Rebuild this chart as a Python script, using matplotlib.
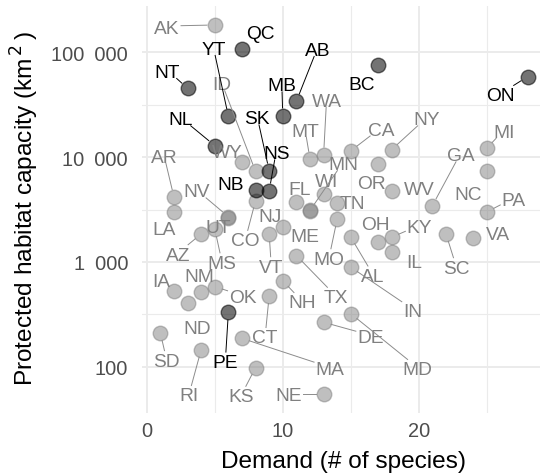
import math
import matplotlib
matplotlib.use("Agg")
import matplotlib.pyplot as plt
from matplotlib.lines import Line2D
from matplotlib.transforms import IdentityTransform
from matplotlib.ticker import FixedLocator, FuncFormatter, NullFormatter

# ---------------- data ----------------
us_state = ["AK", "ID", "WY", "MT", "WA", "CA", "NY", "MI", "OR", "WV",
            "GA", "NC", "PA", "VA", "SC", "KY", "OH", "IL", "AL", "IN",
            "MD", "DE", "TX", "MO", "TN", "MN", "WI", "ME", "FL", "NJ",
            "VT", "NH", "CT", "MA", "KS", "NE", "RI", "SD", "IA", "ND",
            "NM", "OK", "AZ", "MS", "NV", "UT", "AR", "LA", "CO"]
us_demand = [5, 8, 7, 12, 13, 15, 18, 25, 17, 18,
             21, 25, 25, 24, 22, 18, 17, 18, 15, 15,
             15, 13, 11, 14, 14, 12, 13, 12, 11, 10,
             9, 10, 9, 7, 8, 13, 4, 1, 2, 3,
             4, 5, 4, 5, 6, 6, 2, 2, 8]
us_capacity = [183000, 7300, 8900, 9600, 10500, 11500, 11800, 12200, 8600, 4800,
               3450, 7300, 3000, 1680, 1850, 1720, 1560, 1240, 1720, 890,
               320, 265, 1150, 2570, 3650, 3100, 4450, 3050, 3700, 2150,
               1850, 660, 475, 186, 98, 55, 145, 210, 530, 405,
               515, 580, 1850, 2060, 2700, 2650, 4150, 2980, 3850]

ca_prov = ["QC", "YT", "NT", "NL", "MB", "AB", "BC", "ON", "SK", "NS", "NB", "PE"]
ca_demand = [7, 6, 3, 5, 10, 11, 17, 28, 9, 9, 8, 6]
ca_capacity = [108000, 24600, 45500, 12900, 24900, 34200, 76400, 58800, 7430, 4790, 4900, 330]

x_ticks = [0, 10, 20]
x_minor = [5, 15, 25]
y_ticks = [1e2, 1e3, 1e4, 1e5]
y_minor = [10 ** 2.5, 10 ** 3.5, 10 ** 4.5]

# ---------------- label layout (pixel offsets, +y up; draw segment?) ----------------
label_layout = {
    "QC": (18, 18, False), "YT": (-15, 69, True), "NT": (-20, 18, True),
    "NL": (-34, 28, True), "MB": (-1, 32, True), "AB": (21, 53, True),
    "BC": (-16, -18, False), "ON": (-27, -17, True), "SK": (-12, 54, True),
    "NS": (7, 39, True), "NB": (-25, 7, False), "PE": (-3, -48, True),
    "AK": (-48, -1, True), "ID": (-34, 89, True), "WY": (-15, 12, False),
    "MT": (-5, 30, True), "WA": (3, 56, True), "CA": (30, 23, True),
    "NY": (35, 32, True), "MI": (17, 18, True), "OR": (-7, -17, False),
    "WV": (28, 3, False), "GA": (28, 52, True), "NC": (-19, -21, False),
    "PA": (27, 14, True), "VA": (25, 6, False), "SC": (10, -32, True),
    "KY": (28, 12, True), "OH": (-3, 19, False), "IL": (23, -8, False),
    "AL": (22, -37, True), "IN": (62, -42, True), "MD": (67, -54, True),
    "DE": (47, -13, True), "TX": (39, -40, True), "MO": (-8, -38, True),
    "TN": (15, 2, False), "MN": (33, 48, True), "WI": (3, 15, False),
    "ME": (-5, -23, False), "FL": (3, 15, False), "NJ": (-13, 13, False),
    "VT": (2, -31, True), "NH": (19, -20, True), "CT": (-4, -40, True),
    "MA": (88, -29, True), "KS": (-14, -27, True), "NE": (-35, 0, True),
    "RI": (-12, -44, True), "SD": (6, -26, True), "IA": (-13, 11, False),
    "ND": (10, -23, False), "NM": (-2, 18, False), "OK": (28, -9, True),
    "AZ": (-23, -19, True), "MS": (7, -32, True), "NV": (-32, 27, True),
    "UT": (-10, -8, False), "AR": (-10, 42, True), "LA": (-10, -15, False),
    "CO": (-10, -38, True),
}

FONT = ["Liberation Sans", "DejaVu Sans"]
plt.rcParams["font.family"] = FONT
DPI = 100
W, H = 540, 477

fig = plt.figure(figsize=(W / DPI, H / DPI), dpi=DPI)
ax = fig.add_axes([142 / W, 63.5 / H, 404 / W, 406.1 / H])
ax.set_yscale("log")
ax.set_xlim(-0.35, 29.35)
ax.set_ylim(10 ** 1.5616, 10 ** 5.44)

for s in ax.spines.values():
    s.set_visible(False)
ax.xaxis.set_major_locator(FixedLocator(x_ticks))
ax.xaxis.set_minor_locator(FixedLocator(x_minor))
ax.yaxis.set_major_locator(FixedLocator(y_ticks))
ax.yaxis.set_minor_locator(FixedLocator(y_minor))
ax.yaxis.set_minor_formatter(NullFormatter())
ax.xaxis.set_minor_formatter(NullFormatter())
ax.yaxis.set_major_formatter(FuncFormatter(lambda v, p: f"{int(round(v)):,}".replace(",", "\u2002")))
ax.grid(True, which="major", color="#ebebeb", linewidth=1.4, zorder=0)
ax.grid(True, which="minor", color="#ebebeb", linewidth=0.8, zorder=0)
ax.set_axisbelow(True)
ax.tick_params(which="both", length=0)
ax.tick_params(axis="x", pad=6.0, labelsize=14.4, labelcolor="#4d4d4d")
ax.tick_params(axis="y", pad=10, labelsize=14.4, labelcolor="#4d4d4d")

PT_S = 110
ax.scatter(us_demand, us_capacity, s=PT_S, facecolor=(0.5, 0.5, 0.5, 0.5),
           edgecolor=(0.5, 0.5, 0.5, 0.5), linewidth=1.0, zorder=3)
ax.scatter(ca_demand, ca_capacity, s=PT_S, facecolor=(0, 0, 0, 0.55),
           edgecolor=(0, 0, 0, 0.55), linewidth=1.0, zorder=3)

LAB_FS = 13.8
cap_px = 0.7 * LAB_FS * DPI / 72
labels = []
for codes, xs, ys, col, segcol in [(us_state, us_demand, us_capacity, "#808080", "#8c8c8c"),
                                   (ca_prov, ca_demand, ca_capacity, "#000000", "#000000")]:
    for c, xv, yv in zip(codes, xs, ys):
        dx, dy, seg = label_layout[c]
        ann = ax.annotate(c, xy=(xv, yv), xytext=(dx, dy - cap_px / 2),
                          textcoords="offset pixels", ha="center", va="baseline",
                          fontsize=LAB_FS, color=col, zorder=5)
        labels.append((ann, xv, yv, dx, dy, seg, segcol))

fig.text(343.7 / W, 1 - 461.7 / H, "Demand (# of species)", ha="center", va="center",
         fontsize=17.6, color="black")
fig.text(25 / W, 1 - 208 / H, r"Protected habitat capacity (km$^{\,2}\,$)", rotation=90,
         ha="center", va="center", fontsize=17.6, color="black")

fig.canvas.draw()
rend = fig.canvas.get_renderer()
rad = math.sqrt(PT_S) * DPI / 72 / 2 + 0.5
for ann, xv, yv, dx, dy, seg, segcol in labels:
    if not seg:
        continue
    px, py = ax.transData.transform((xv, yv))
    bb = ann.get_window_extent(rend)
    cx = (bb.x0 + bb.x1) / 2
    cy = py + dy
    hw = (bb.x1 - bb.x0) / 2 + 1.5
    hh = cap_px / 2 + 1.5
    vx, vy = px - cx, py - cy
    L = math.hypot(vx, vy)
    if L == 0:
        continue
    tx = hw / abs(vx) if vx != 0 else float("inf")
    ty = hh / abs(vy) if vy != 0 else float("inf")
    t0 = min(tx, ty)
    t1 = 1 - rad / L
    if t1 <= t0:
        continue
    line = Line2D([cx + vx * t0, cx + vx * t1], [cy + vy * t0, cy + vy * t1],
                  transform=IdentityTransform(), color=segcol, linewidth=0.7, zorder=4)
    fig.add_artist(line)

fig.savefig("out.png", dpi=DPI)
